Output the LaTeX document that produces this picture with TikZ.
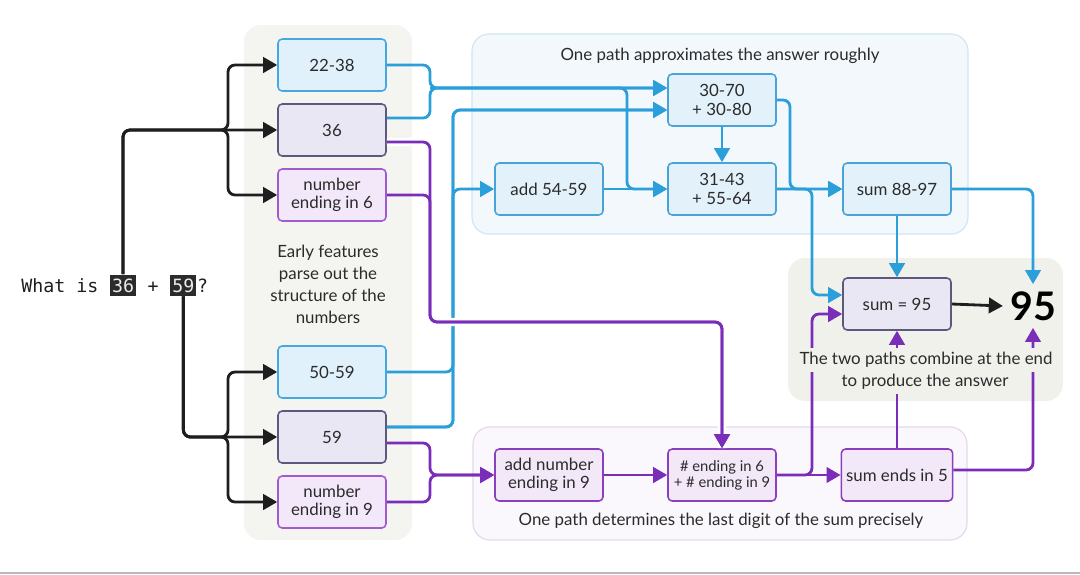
\documentclass[tikz,border=0pt]{standalone}
\usepackage{fontspec}
\setmainfont{Lato}
\setmonofont{DejaVu Sans Mono}
\usetikzlibrary{arrows.meta,calc}

\definecolor{lineblue}{HTML}{2A9FD9}
\definecolor{linepurple}{HTML}{7A2DB8}
\definecolor{lineblack}{HTML}{1E1E1E}
\definecolor{inkgray}{HTML}{2B2B2B}
\definecolor{blueface}{HTML}{E1F1FB}
\definecolor{blueedge}{HTML}{45A8E0}
\definecolor{slateface}{HTML}{E8E7F3}
\definecolor{slateedge}{HTML}{5C587E}
\definecolor{purpleface}{HTML}{F3E8F9}
\definecolor{purpleedge}{HTML}{A05BD0}
\definecolor{skyface}{HTML}{E2F1FA}
\definecolor{skyedge}{HTML}{4AA3D6}
\definecolor{violetface}{HTML}{F3E8F8}
\definecolor{violetedge}{HTML}{8A3FBF}
\definecolor{grayzone}{HTML}{F4F4F0}
\definecolor{answerzone}{HTML}{F1F1EC}
\definecolor{bluezone}{HTML}{F2F8FC}
\definecolor{bluezoneedge}{HTML}{CFE5F3}
\definecolor{purplezone}{HTML}{FAF8FC}
\definecolor{purplezoneedge}{HTML}{E3D7EE}

\tikzset{
  nodebox/.style={rounded corners=3pt, line width=1.1pt, minimum width=2.7cm, minimum height=1.3cm, align=center, text=inkgray, font=\fontsize{12}{13}\selectfont},
  bluebox/.style={nodebox, fill=blueface, draw=blueedge},
  slatebox/.style={nodebox, fill=slateface, draw=slateedge},
  purplebox/.style={nodebox, fill=purpleface, draw=purpleedge},
  skybox/.style={nodebox, fill=skyface, draw=skyedge},
  violetbox/.style={nodebox, fill=violetface, draw=violetedge},
  zone/.style={rounded corners=12pt, line width=0.8pt},
  note/.style={align=center, text=inkgray, font=\fontsize{12}{15.6}\selectfont},
  answer/.style={inner sep=5pt, text=black, font=\fontsize{28}{30}\selectfont\bfseries},
  question/.style={inner sep=0pt, text=lineblack, font=\ttfamily\fontsize{13}{16}\selectfont},
  hl/.style={fill=inkgray, text=white!92!black, inner xsep=1.5pt, inner ysep=2.8pt, font=\ttfamily\fontsize{13}{16}\selectfont},
  link/.style={line width=2pt, rounded corners=5pt, -{Triangle[length=10pt, width=11pt]}},
  bluelink/.style={link, draw=lineblue},
  purplelink/.style={link, draw=linepurple},
  blacklink/.style={link, draw=lineblack},
  bridge/.style={preaction={draw=white, line width=6pt, -}},
}

\begin{document}
\begin{tikzpicture}[x=0.025cm, y=-0.025cm]
\useasboundingbox (0,0) rectangle (1080,574);

\fill[zone, grayzone] (244,25) rectangle (412,540);
\filldraw[zone, fill=bluezone, draw=bluezoneedge] (472,34) rectangle (968,234);
\filldraw[zone, fill=purplezone, draw=purplezoneedge] (473,427) rectangle (967,540);
\fill[zone, answerzone] (788,258) rectangle (1063,401);
\draw[gray!55, line width=1.5pt] (0,573) -- (1080,573);

\node[question, anchor=base west] (qwhat) at (21,292) {What is\phantom{x}};
\node[hl, anchor=base west] (q36) at (qwhat.base east) {36};
\node[question, anchor=base west] (qplus) at (q36.base east) {\phantom{x}+\phantom{x}};
\node[hl, anchor=base west] (q59) at (qplus.base east) {59};
\node[question, anchor=base west] (qmark) at (q59.base east) {?};

\foreach \name/\y/\kind/\txt in {n2238/65/bluebox/{22-38}, n36/130/slatebox/{36}, n6/195/purplebox/{number\\ending in 6}, n5059/372/bluebox/{50-59}, n59/437/slatebox/{59}, n9/502/purplebox/{number\\ending in 9}}{
  \node[\kind] (\name) at (332,\y) {\txt};
}
\node[note] (tearly) at (328,284) {Early features\\parse out the\\structure of the\\numbers};

\node[note] (tapprox) at (720,56) {One path approximates the answer roughly};
\node[skybox] (n3070) at (722,100) {30-70\\+ 30-80};
\node[skybox] (n3143) at (722,189) {31-43\\+ 55-64};
\node[skybox] (n5459) at (549,189) {add 54-59};
\node[skybox] (n8897) at (897,189) {sum 88-97};

\node[violetbox] (nadd9) at (549,475) {add number\\ending in 9};
\node[violetbox, font=\fontsize{10.5}{11.5}\selectfont] (nend) at (722,475) {\# ending in 6\\+ \# ending in 9};
\node[violetbox] (nend5) at (897,475) {sum ends in 5};
\node[note] (tdigit) at (721,521) {One path determines the last digit of the sum precisely};

\node[slatebox] (n95sum) at (897,304) {sum = 95};
\node[answer] (n95) at (1033,306) {95};

\coordinate (kA) at (228,130);
\coordinate (kB) at (228,437);
\coordinate (bA) at (430,88);
\coordinate (bB) at (627,189);
\coordinate (bC) at (453,110);
\coordinate (bD) at (453,189);
\coordinate (bE) at (790,189);
\coordinate (bF) at (812,295);
\coordinate (pA) at (430,322);
\coordinate (pB) at (430,475);
\coordinate (pC) at (812,314);

\draw[blacklink] (q36.north) |- (n36.west);
\draw[blacklink] (q36.north) |- (kA) |- (n2238.west);
\draw[blacklink] (q36.north) |- (kA) |- (n6.west);
\draw[blacklink] (q59.south) |- (n59.west);
\draw[blacklink] (q59.south) |- (kB) |- (n5059.west);
\draw[blacklink] (q59.south) |- (kB) |- (n9.west);

\draw[bluelink] (n2238.east) -| (bA) -- (bA -| n3070.west);
\draw[bluelink] ($(n36.east)+(0,-12)$) -| (bA) -- (bA -| n3070.west);
\draw[bluelink] (bA) -| (bB) -- (n3143.west);
\draw[bluelink] (n5059.east) -| (bC) -- (bC -| n3070.west);
\draw[bluelink] ($(n59.east)+(0,-10)$) -| (bC) -- (bC -| n3070.west);
\draw[bluelink] ($(n59.east)+(0,-10)$) -| (bD) -- (n5459.west);
\draw[bluelink] (n5459.east) -- (n3143.west);
\draw[bluelink] (n3070.south) -- (n3143.north);
\draw[bluelink] (n3070.east) -| (bE) -- (n8897.west);
\draw[bluelink] (n3143.east) -- (n8897.west);
\draw[bluelink] (n3143.east) -| (bF) -- (bF -| n95sum.west);
\draw[bluelink] (n8897.south) -- (n95sum.north);
\draw[bluelink] (n8897.east) -| (n95.north);

\draw[purplelink, bridge] ($(n36.east)+(0,12)$) -| (pA) -| (nend.north);
\draw[purplelink] (n6.east) -| (pA) -| (nend.north);
\draw[purplelink] ($(n59.east)+(0,6)$) -| (pB) -- (nadd9.west);
\draw[purplelink] (n9.east) -| (pB) -- (nadd9.west);
\draw[purplelink] (nadd9.east) -- (nend.west);
\draw[purplelink] (nend.east) -- (nend5.west);
\draw[purplelink] (nend.east) -| (pC) -- (pC -| n95sum.west);
\draw[purplelink] (nend5.north) -- (n95sum.south);
\draw[purplelink] ($(nend5.east)+(0,-5)$) -| (n95.south);
\draw[blacklink] (n95sum.east) -- (n95.west);

\node[note, fill=answerzone, inner xsep=1pt, inner ysep=3pt] (tcombine) at (926,360) {The two paths combine at the end};
\node[note, fill=answerzone, inner xsep=1pt, inner ysep=3pt] (tproduce) at (925,382) {to produce the answer};
\end{tikzpicture}
\end{document}
